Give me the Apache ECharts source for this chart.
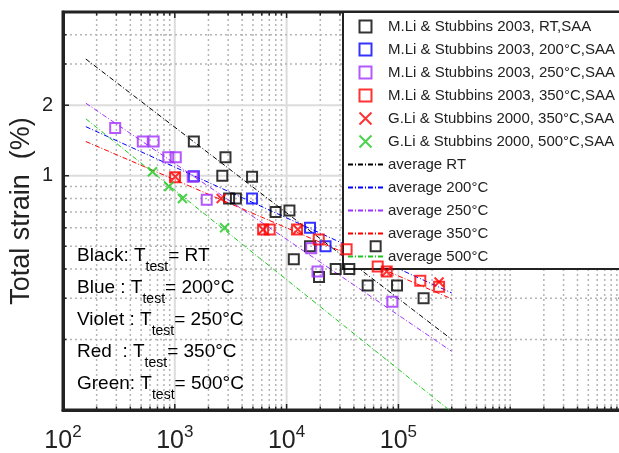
<!DOCTYPE html>
<html>
<head>
<meta charset="utf-8">
<title>Total strain vs cycles</title>
<script src="https://cdn.jsdelivr.net/npm/echarts@6.0.0/dist/echarts.min.js"></script>
<style>
    html, body { margin: 0; padding: 0; background: #fff; }
    #main { width: 619px; height: 453px; }
</style>
</head>
<body>
<div id="main"></div>
<script>
var FONT = '"Liberation Sans", Arial, Helvetica, sans-serif';

// [cycles, total strain %]
var liRT = [[1480, 1.40], [2840, 1.20], [2660, 1.00], [4910, 0.99], [3060, 0.80], [3520, 0.80],
    [7970, 0.70], [10600, 0.71], [11600, 0.44], [16200, 0.50], [19500, 0.37], [27500, 0.40],
    [36400, 0.40], [62600, 0.50], [53100, 0.34], [97200, 0.34], [168000, 0.30]];
var li200 = [[1480, 0.995], [4910, 0.80], [16200, 0.60], [22300, 0.50]];
var li250 = [[293, 1.60], [517, 1.40], [647, 1.40], [873, 1.20], [1020, 1.20], [1445, 0.99],
    [1930, 0.79], [16600, 0.49], [18900, 0.39], [88300, 0.29]];
var li350 = [[1005, 0.985], [6160, 0.59], [7050, 0.59], [12400, 0.59], [19400, 0.535],
    [34400, 0.485], [65300, 0.41], [78600, 0.39], [157000, 0.356], [231000, 0.336]];
var gli350 = [[1010, 0.99], [2600, 0.80], [6160, 0.59], [12600, 0.59], [78600, 0.39], [231000, 0.352]];
var gli500 = [[632, 1.04], [884, 0.90], [1170, 0.80], [2790, 0.60]];

// average fits, start and end of each line
var avgX = [160, 300000];
var avgRT = [3.15, 0.20];
var avg200 = [1.62, 0.316];
var avg250 = [2.04, 0.178];
var avg350 = [1.40, 0.298];
var avg500 = [1.75, 0.098];

// axis ticks
var xLabelTicks = [1e2, 1e3, 1e4, 1e5];
var yLabelTicks = [1, 2];
var xMajorGrid = [1e3, 1e4, 1e5];
var yMajorGrid = [1, 2];

var C_RT = '#000000', C200 = '#0000ff', C250 = '#a030ff', C350 = '#ff0000', C500 = '#1ec81e';

// minor grid positions 2..9 x 10^k
var xMinorGrid = [];
for (var k = 2; k <= 6; k++) {
    for (var m = 2; m <= 9; m++) xMinorGrid.push(m * Math.pow(10, k));
}
xMinorGrid.push(1e6);
var yMinorGrid = [0.2, 0.3, 0.4, 0.5, 0.6, 0.7, 0.8, 0.9, 3, 4];

var xGridData = [], yGridData = [];
xMinorGrid.forEach(function (v) { xGridData.push([v, 1, 0]); });
xMajorGrid.forEach(function (v) { xGridData.push([v, 1, 1]); });
yMinorGrid.forEach(function (v) { yGridData.push([1000, v, 0]); });
yMajorGrid.forEach(function (v) { yGridData.push([1000, v, 1]); });

var dotStyle = { stroke: '#b4b4b4', lineWidth: 1.5, lineDash: [2, 3] };
var solidStyle = { stroke: '#dcdcdc', lineWidth: 2 };
var tickStyle = { stroke: '#222', lineWidth: 1.5 };

function renderXGrid(params, api) {
    var cs = params.coordSys;
    var x = api.coord([api.value(0), 1])[0];
    var major = api.value(2) === 1;
    var len = major ? 6 : 3.5;
    var bottom = cs.y + cs.height;
    return {
        type: 'group',
        children: [
            { type: 'line', shape: { x1: x, y1: cs.y + 2, x2: x, y2: bottom - 2 }, style: major ? solidStyle : dotStyle },
            { type: 'line', shape: { x1: x, y1: bottom, x2: x, y2: bottom - len }, style: tickStyle },
            { type: 'line', shape: { x1: x, y1: cs.y, x2: x, y2: cs.y + len }, style: tickStyle }
        ]
    };
}

function renderYGrid(params, api) {
    var cs = params.coordSys;
    var y = api.coord([1000, api.value(1)])[1];
    var major = api.value(2) === 1;
    var len = major ? 6 : 3.5;
    var right = cs.x + cs.width;
    return {
        type: 'group',
        children: [
            { type: 'line', shape: { x1: cs.x + 2, y1: y, x2: right - 2, y2: y }, style: major ? solidStyle : dotStyle },
            { type: 'line', shape: { x1: cs.x, y1: y, x2: cs.x + len, y2: y }, style: tickStyle },
            { type: 'line', shape: { x1: right, y1: y, x2: right - len, y2: y }, style: tickStyle }
        ]
    };
}

var SQUARE = 'path://M0 0H10V10H0Z';
var CROSS = 'path://M0 0L10 10M10 0L0 10';

function markers(name, data, color, symbol, size, z) {
    return {
        name: name, type: 'scatter', data: data, symbol: symbol, symbolSize: size, z: z,
        itemStyle: { color: 'transparent', borderColor: color, borderWidth: 2 }
    };
}

function fit(name, ys, color) {
    return {
        name: name, type: 'line', symbol: 'none', z: 3,
        data: [[avgX[0], ys[0]], [avgX[1], ys[1]]],
        itemStyle: { color: color },
        lineStyle: { color: color, width: 1, type: [5, 2, 1, 2] }
    };
}

var legendNames = [
    'M.Li & Stubbins 2003, RT,SAA',
    'M.Li & Stubbins 2003, 200°C,SAA',
    'M.Li & Stubbins 2003, 250°C,SAA',
    'M.Li & Stubbins 2003, 350°C,SAA',
    'G.Li & Stubbins 2000, 350°C,SAA',
    'G.Li & Stubbins 2000, 500°C,SAA',
    'average RT', 'average 200°C', 'average 250°C', 'average 350°C', 'average 500°C'
];

// line entries: hide the dot echarts adds to line legend icons
var legendData = legendNames.map(function (n, i) {
    return i < 6 ? { name: n } : { name: n, itemStyle: { opacity: 0 } };
});

var note =
    '{k|Black: T}{ks|test}{k|= RT}\n' +
    '{b|Blue : T}{bs|test}{b|= 200°C}\n' +
    '{v|Violet : T}{vs|test}{v|= 250°C}\n' +
    '{r|Red  : T}{rs|test}{r|= 350°C}\n' +
    '{g|Green: T}{gs|test}{g|= 500°C}';

function main(color) { return { fontFamily: FONT, fontSize: 19, color: color, lineHeight: 32, verticalAlign: 'top' }; }
function sub(color) { return { fontFamily: FONT, fontSize: 14, color: color, lineHeight: 17, padding: [14, 0, 0, 0], verticalAlign: 'top' }; }

var option = {
    animation: false,
    backgroundColor: '#fff',
    grid: {
        left: 63, top: 12, right: -3, bottom: 43, outerBoundsMode: 'none',
        show: true, borderColor: '#222', borderWidth: 3
    },
    xAxis: {
        type: 'log', logBase: 10, min: 100, max: 1e7,
        axisLine: { lineStyle: { color: '#222', width: 3 } },
        axisTick: { show: false },
        splitLine: { show: false },
        axisLabel: {
            customValues: xLabelTicks,
            margin: 14,
            formatter: function (v) {
                return '{b|10}{s|' + Math.round(Math.log(v) / Math.LN10) + '}';
            },
            rich: {
                b: { fontFamily: FONT, fontSize: 25, color: '#222', lineHeight: 30, verticalAlign: 'bottom' },
                s: { fontFamily: FONT, fontSize: 17, color: '#222', lineHeight: 16, verticalAlign: 'top' }
            }
        }
    },
    yAxis: {
        type: 'log', logBase: 10, min: 0.1, max: 5,
        name: 'Total strain  (%)', nameLocation: 'middle', nameGap: 28, nameMoveOverlap: false,
        nameTextStyle: { fontFamily: FONT, fontSize: 27, color: '#222' },
        axisLine: { lineStyle: { color: '#222', width: 3 } },
        axisTick: { show: false },
        splitLine: { show: false },
        axisLabel: { customValues: yLabelTicks, margin: 10, fontFamily: FONT, fontSize: 20, color: '#222' }
    },
    legend: {
        orient: 'vertical', left: 343, top: 12,
        data: legendData,
        itemWidth: 35, itemHeight: 12, itemGap: 8,
        padding: [7, 14, 5, 4],
        backgroundColor: '#fff', borderColor: '#222', borderWidth: 2, borderRadius: 0,
        selectedMode: false,
        symbolKeepAspect: true,
        itemStyle: { borderWidth: 2 },
        textStyle: { fontFamily: FONT, fontSize: 15, color: '#222' }
    },
    graphic: [{
        type: 'text', left: 77, top: 246, z: 10,
        style: {
            text: note,
            rich: {
                k: main('#000000'), ks: sub('#000000'),
                b: main(C200), bs: sub(C200),
                v: main(C250), vs: sub(C250),
                r: main(C350), rs: sub(C350),
                g: main(C500), gs: sub(C500)
            }
        }
    }],
    series: [
        { type: 'custom', renderItem: renderXGrid, data: xGridData, silent: true, z: 1, encode: { x: 0, y: 1 } },
        { type: 'custom', renderItem: renderYGrid, data: yGridData, silent: true, z: 1, encode: { x: 0, y: 1 } },
        markers(legendNames[0], liRT, C_RT, SQUARE, 10, 4),
        markers(legendNames[1], li200, C200, SQUARE, 10, 4),
        markers(legendNames[2], li250, C250, SQUARE, 10, 4),
        markers(legendNames[3], li350, C350, SQUARE, 10, 4),
        markers(legendNames[4], gli350, C350, CROSS, 9, 5),
        markers(legendNames[5], gli500, C500, CROSS, 9, 5),
        fit(legendNames[6], avgRT, C_RT),
        fit(legendNames[7], avg200, C200),
        fit(legendNames[8], avg250, C250),
        fit(legendNames[9], avg350, C350),
        fit(legendNames[10], avg500, C500)
    ]
};

var myChart = echarts.init(document.getElementById('main'));
myChart.setOption(option);
</script>
</body>
</html>
